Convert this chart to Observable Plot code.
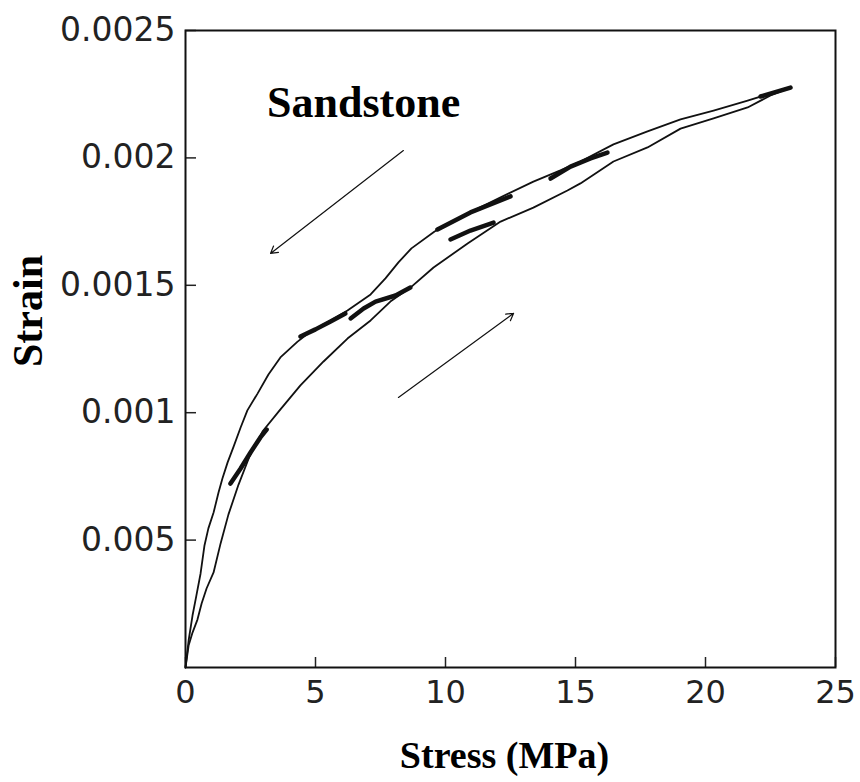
<!DOCTYPE html>
<html><head><meta charset="utf-8">
<script src="https://cdn.jsdelivr.net/npm/d3@7"></script>
<script src="https://cdn.jsdelivr.net/npm/@observablehq/plot@0.6"></script>
<style>html,body{margin:0;padding:0;background:#fff} #chart svg{display:block}</style>
</head><body><div id="chart"></div>
<script>
// Unloading (upper) branch: stress (MPa), strain
const upperStress = [0,0.12,0.27,0.42,0.58,0.73,0.88,1.08,1.27,1.42,1.62,1.85,2.12,2.38,2.77,3.19,3.65,4.31,4.81,5.58,6.23,7.12,7.69,8.19,8.69,9.58,10.85,12.12,13.38,14.42,15.19,16.46,17.77,19.04,20.31,21.62,22.5,23.27];
const upperStrain = [0,0.000106,0.000204,0.000283,0.000369,0.000479,0.000546,0.000608,0.000687,0.000742,0.000805,0.000867,0.000942,0.001009,0.001075,0.00115,0.001217,0.001279,0.001319,0.001362,0.001401,0.001464,0.001527,0.00159,0.001645,0.001711,0.001782,0.001845,0.001907,0.001951,0.001986,0.002053,0.002104,0.002151,0.002186,0.002225,0.002253,0.002276];
// Loading (lower) branch
const lowerStress = [0,0.12,0.27,0.46,0.62,0.81,1.08,1.35,1.65,2.04,2.46,2.96,3.62,4.42,5.31,6.23,7.12,7.88,8.65,9.54,10.85,12.12,13.38,14.69,15.19,16.46,17.77,19.04,20.31,21.62,22.5,23.27];
const lowerStrain = [0,0.000086,0.000137,0.000188,0.000251,0.00031,0.000373,0.000487,0.0006,0.000718,0.000828,0.000926,0.001009,0.001107,0.001201,0.001291,0.001362,0.001436,0.001491,0.00157,0.001664,0.00175,0.001805,0.001872,0.0019,0.001986,0.002041,0.002115,0.002155,0.002198,0.002245,0.002276];
// Small unload/reload loops (heavy traces)
const loopId     = ["l1","l1","l1","l1","l1","l2a","l2a","l2a","l2a","l2b","l2b","l2b","l2b","l2b","l3a","l3a","l3a","l3b","l3b","l3b","l4","l4","l4","l4","l5","l5"];
const loopStress = [1.73,2.12,2.5,2.88,3.12, 4.42,5.0,5.58,6.15, 6.35,6.85,7.31,8.08,8.65, 9.69,10.96,12.5, 10.19,10.96,11.85, 14.04,14.81,15.58,16.23, 22.12,23.27];
const loopStrain = [0.000722,0.000781,0.000844,0.000903,0.000934, 0.001299,0.001327,0.001358,0.001389, 0.00137,0.001409,0.001436,0.00146,0.001491, 0.001719,0.001786,0.001849, 0.00168,0.001715,0.001746, 0.001919,0.001966,0.001998,0.002021, 0.002241,0.002276];
// Direction arrows
const arrowX1 = [8.38, 8.19];
const arrowY1 = [0.002029, 0.00106];
const arrowX2 = [3.27, 12.62];
const arrowY2 = [0.001625, 0.00139];
// Annotation
const noteText = ["Sandstone"];
const noteX = [6.85];
const noteY = [0.002217];
// Axes
const xTickValues = [0,5,10,15,20,25];
const xTickLabels = ["0","5","10","15","20","25"];
const yTickValues = [0.0005,0.001,0.0015,0.002,0.0025];
const yTickLabels = ["0.005","0.001","0.0015","0.002","0.0025"];
const xTitle = "Stress (MPa)";
const yTitle = "Strain";

const upper = upperStress.map((s,i)=>({stress:s, strain:upperStrain[i]}));
const lower = lowerStress.map((s,i)=>({stress:s, strain:lowerStrain[i]}));
const loops = loopStress.map((s,i)=>({stress:s, strain:loopStrain[i], id:loopId[i]}));
const arrows = arrowX1.map((x,i)=>({x1:x, y1:arrowY1[i], x2:arrowX2[i], y2:arrowY2[i]}));
const notes = noteText.map((t,i)=>({t, x:noteX[i], y:noteY[i]}));

const W = 860, H = 782, ML = 185, MR = 25, MT = 30, MB = 115;
const serif = "'Liberation Serif','Times New Roman',serif";
const chart = Plot.plot({
  width: W, height: H,
  marginLeft: ML, marginRight: MR, marginTop: MT, marginBottom: MB,
  style: {background: "white", fontFamily: "'DejaVu Sans',sans-serif", color: "#111"},
  x: {domain: [0, 25]},
  y: {domain: [0, 0.0025]},
  marks: [
    // inward tick marks (short ticks, inset from the far side of the frame)
    Plot.tickX(xTickValues, {x: d => d, insetTop: 627, stroke: "#222", strokeWidth: 1.5}),
    Plot.tickY(yTickValues, {y: d => d, insetRight: 639, stroke: "#222", strokeWidth: 1.5}),
    // tick labels
    Plot.axisX({ticks: xTickValues, tickFormat: d => xTickLabels[xTickValues.indexOf(d)], tickSize: 0, tickPadding: 13, fontSize: 32, label: null, fill: "#222"}),
    Plot.axisY({ticks: yTickValues, tickFormat: d => yTickLabels[yTickValues.indexOf(d)], tickSize: 0, tickPadding: 10, fontSize: 33, label: null, fill: "#222"}),
    Plot.frame({stroke: "#111", strokeWidth: 2}),
    Plot.line(upper, {x: "stress", y: "strain", stroke: "#111", strokeWidth: 1.8}),
    Plot.line(lower, {x: "stress", y: "strain", stroke: "#111", strokeWidth: 1.8}),
    Plot.line(loops, {x: "stress", y: "strain", z: "id", stroke: "#111", strokeWidth: 4.5, strokeLinecap: "round"}),
    Plot.arrow(arrows, {x1: "x1", y1: "y1", x2: "x2", y2: "y2", stroke: "#111", strokeWidth: 1.2, headLength: 10}),
    Plot.text(notes, {x: "x", y: "y", text: "t", fontSize: 44, fontWeight: "bold", fontFamily: serif, fill: "#000"}),
    Plot.text([xTitle], {frameAnchor: "bottom", textAnchor: "middle", lineAnchor: "middle", dy: 88, dx: -6, text: d => d, fontSize: 38, fontWeight: "bold", fontFamily: serif, fill: "#000"}),
    Plot.text([yTitle], {frameAnchor: "left", textAnchor: "middle", lineAnchor: "middle", rotate: -90, dx: -157, dy: -38, text: d => d, fontSize: 42, fontWeight: "bold", fontFamily: serif, fill: "#000"})
  ]
});
document.getElementById("chart").appendChild(chart);
</script>
</body></html>
